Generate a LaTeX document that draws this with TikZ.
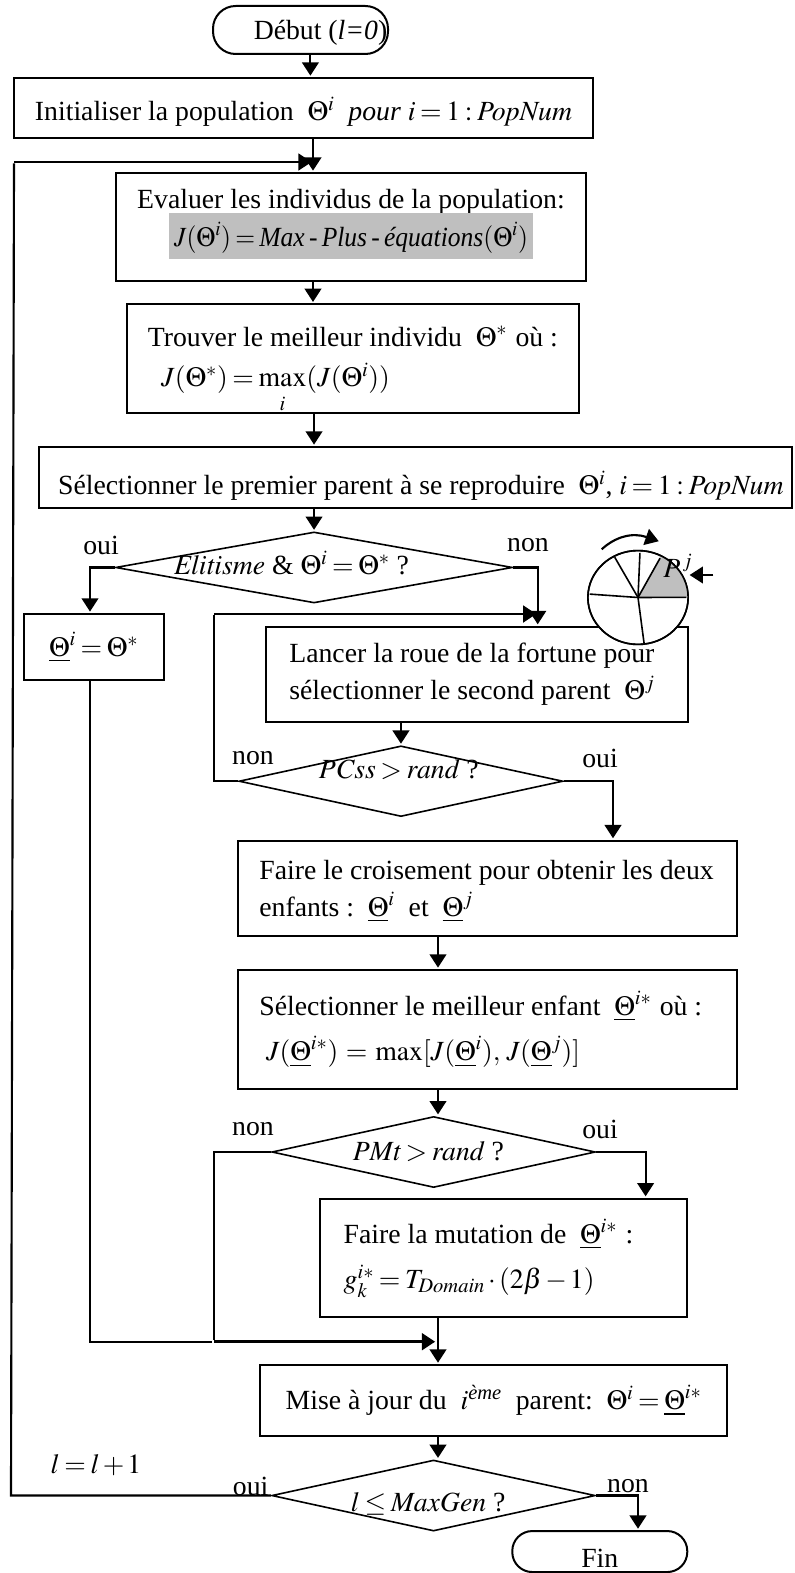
\documentclass[tikz,border=0pt]{standalone}
\usepackage{amsmath,graphicx}
\usepackage{mathptmx}
\usepackage[no-math]{fontspec}
\setmainfont{Liberation Serif}
\usetikzlibrary{arrows.meta, positioning, shapes.geometric}

\thickmuskip=3mu
\medmuskip=2mu
\setlength{\fboxsep}{0pt}
\newcommand{\uth}{\underline{\Theta}}
\newcommand{\lowered}[2]{\raisebox{-#1}[\height][\depth]{#2}}
\newcommand{\offtext}[3]{\raisebox{#2}[0pt][0pt]{\hbox to 0pt{\hss\kern#1\relax #3\hss\kern-#1\relax}}}

\begin{document}
\begin{tikzpicture}[x=0.75pt,y=-0.75pt,shorten >=1pt,on grid,>={Triangle[length=10pt,width=12.5pt]},
        every node/.style={font=\fontsize{20.8}{28}\selectfont},
        flow/.style={line width=1.6pt},
        heavy/.style={line width=2.2pt},
        box/.style 2 args={draw,rectangle,line width=1.5pt,inner sep=0pt,minimum width=#1,minimum height=#2},
        txtbox/.style n args={3}{box={#1}{#2},inner xsep=16pt,text width=#3,align=flush left},
        term/.style n args={3}{box={#1}{#2},rounded corners=#3},
        cond/.style n args={3}{draw,diamond,line width=1.2pt,inner sep=0pt,aspect=#3,minimum width=#1,minimum height=#2}]

      \useasboundingbox (0,0) rectangle (794,1573);

      \coordinate (j_a) at (310.4,0);
      \coordinate (j_b) at (438,0);
      \coordinate (j_c) at (90,0);
      \coordinate (j_d) at (613,0);
      \coordinate (j_e) at (645.6,0);
      \coordinate (j_f) at (638,0);
      \coordinate (j_0) at (313,162);
      \coordinate (j_1) at (14,162);
      \coordinate (j_2) at (11,1495.5);
      \coordinate (j_3) at (436.5,1341.7);
      \coordinate (j_4) at (213.7,1341.7);
      \coordinate (j_5) at (537.7,614);
      \coordinate (j_6) at (214,614);

      \node[term={131.25pt}{36pt}{17pt}]  (deb) at (300.5,30)     {\hspace*{30pt}\lowered{2.2pt}{Début (\textit{l=0})}};
      \node[box={434.25pt}{45pt}]   (init) [below right=58.5pt and 2.25pt of deb]
            {\lowered{3pt}{Initialiser la population\ \ $\Theta^i$\ \ \textit{pour} $i=1:\mathit{PopNum}$}};
      \node[box={352.5pt}{81pt},align=flush center,text width=350pt] (eval) [below right=89.25pt and 35.6pt of init]
            {\raisebox{1.5pt}[\height][\depth]{Evaluer les individus de la population:}\\
             \raisebox{3.4pt}[\height][\depth]{\colorbox{black!25}{\makebox[273pt]{\rule[-9.5pt]{0pt}{34.5pt}\scalebox{.92}[1]{$J(\Theta^i)=\textit{Max\,-\,Plus\,-\,équations}(\Theta^i)$}}}}};
      \node[txtbox={339pt}{81.75pt}{307pt}] (best) [below right=98.85pt and 1.2pt of eval]
            {\lowered{4.5pt}{Trouver le meilleur individu\ \ $\Theta^*$\ \hspace{1pt}où :}\\
             \hspace*{10pt}\lowered{6.75pt}{$J(\Theta^*)=\max\limits_{\smash{\lower 5pt\hbox{$\scriptstyle i$}}}(J(\Theta^i))$}};
      \node[box={564.75pt}{45.75pt}] (par1) [below right=89pt and 47.2pt of best]
            {\hspace*{8pt}\lowered{6pt}{Sélectionner le premier parent à se reproduire\ \ $\Theta^i$, $i=1:\mathit{PopNum}$}};
      \node[cond={297.75pt}{53.25pt}{5.6}] (elit) [below left=67.5pt and 76.1pt of par1]
            {\offtext{-16.8pt}{-5.5pt}{$\mathit{Elitisme}$ \& $\Theta^i=\Theta^*$ ?}};
      \node[box={104.6pt}{49.5pt}] (copy) [below left=59.6pt and 165.2pt of elit] {$\uth^i=\Theta^*$};
      \node[txtbox={316.2pt}{71.25pt}{284.2pt}] (roue) [below right=80pt and 122.1pt of elit]
            {\mbox{\hspace*{1.5pt}Lancer la roue de la fortune pour}\\
             \mbox{\hspace*{1.5pt}sélectionner le second parent\ \ $\Theta^j$}};
      \node[cond={243pt}{53pt}{4.58}] (pcss) [below left=80.3pt and 56.9pt of roue]
            {\offtext{-1.7pt}{2pt}{$\mathit{PCss}>\mathit{rand}$ ?}};
      \node[txtbox={374.25pt}{71.5pt}{342.25pt}] (cross) [below right=80.3pt and 64.9pt of pcss]
            {\lowered{2.2pt}{Faire le croisement pour obtenir les deux}\\
             \lowered{2.2pt}{enfants :\ \ $\uth^i$\ \ et\ \ $\uth^j$}};
      \node[txtbox={374.25pt}{89.25pt}{342.25pt}] (bestc) [below=105.9pt of cross]
            {\mbox{Sélectionner le meilleur enfant\ \ $\uth^{i*}$\ \hspace{1pt}où :}\\[6pt]
             \hspace*{5pt}$J(\uth^{i*})\,=\,\max[J(\uth^i),\,J(\uth^j)]$};
      \node[cond={242.6pt}{53.25pt}{4.56}] (pmt) [below left=91.9pt and 40.4pt of bestc]
            {\offtext{-4pt}{-6.5pt}{$\mathit{PMt}>\mathit{rand}$ ?}};
      \node[txtbox={275.25pt}{89pt}{243.25pt}] (mut) [below right=79.5pt and 52.7pt of pmt]
            {\hspace*{1.5pt}Faire la mutation de\ \ $\uth^{i*}$\ \hspace{1pt}:\\[6pt]
             \hspace*{1.5pt}$g_k^{i*}=T_{\mathit{Domain}}\cdot(2\beta-1)$};
      \node[box={350.7pt}{53.25pt}] (maj) [below left=106.9pt and 7.7pt of mut]
            {Mise à jour du\ \ $i^{\textit{ème}}$\ \ parent:\ \ $\Theta^i=\uth^{i*}$};
      \node[cond={242.6pt}{53.25pt}{4.56}] (gen) [below left=71.25pt and 45.1pt of maj]
            {\offtext{-4pt}{-12pt}{$l\leq\mathit{MaxGen}$ ?}};
      \node[term={131.25pt}{30.75pt}{15pt}]  (fin) [below right=42pt and 124.7pt of gen] {\lowered{5pt}{Fin}};

      \node (l_1) at (101,545)    {oui};
      \node (l_2) at (528,545)    {non};
      \node (l_3) at (253,758)    {non};
      \node (l_4) at (600,758)    {oui};
      \node (l_5) at (253,1129)   {non};
      \node (l_6) at (600,1129)   {oui};
      \node (l_7) at (250.6,1486) {oui};
      \node (l_8) at (628,1486)   {non};
      \node (l_9) at (96,1465)    {$l=l+1$};

      \draw[flow,->] (deb.south -| j_a) -- (init.north -| j_a);
      \draw[flow,->] (init.south -| j_0) -- (eval.north -| j_0);
      \draw[flow,->] (eval.south -| j_0) -- (best.north -| j_0);
      \draw[flow,->] (best.south -| elit) -- (par1.north -| elit);
      \draw[flow,->] (par1.south -| elit) -- (elit.north);
      \draw[flow,->] (elit.west) -| (copy.north -| j_c);
      \draw[flow,->] (elit.east) -| (roue.north -| j_5);
      \draw[flow,->] (roue.south -| pcss) -- (pcss.north);
      \draw[flow,->] (pcss.east) -| (cross.north -| j_d);
      \draw[flow,->] (cross.south -| j_b) -- (bestc.north -| j_b);
      \draw[flow,->] (bestc.south -| j_b) -- (pmt.north -| j_b);
      \draw[flow,->] (pmt.east) -| (mut.north -| j_e);
      \draw[flow,->] (mut.south -| j_b) -- (maj.north -| j_b);
      \draw[flow,->] (maj.south -| j_b) -- (gen.north -| j_b);
      \draw[flow,->] (gen.east) -| (fin.north -| j_f);

      \draw[flow] (copy.south -| j_c) -- (j_c |- j_4) -- (j_4);
      \draw[heavy,->] (j_4) -- (j_3);
      \draw[flow] (pmt.west) -| (j_4);
      \draw[flow] (pcss.west) -| (j_6);
      \draw[heavy,->] (j_6) -- (j_5);
      \draw[flow] (gen.west) -- (j_2) -- (j_1);
      \draw[heavy,->] (j_1) -- (j_0);

      % roue de la fortune
      \coordinate (w_0) at (638,597.5);
      \draw[line width=1.2pt,fill=white] (w_0) ellipse [x radius=37.6pt,y radius=35.2pt];
      \fill[black!25] (w_0) -- ++(37.6pt,0pt) arc [start angle=0,end angle=62.6,x radius=37.6pt,y radius=35.2pt] -- cycle;
      \foreach \x/\y in {687.7/597.3,660.7/557,640/551.5,614/556,588.3/594,644.3/645}
        \draw[line width=1.2pt] (w_0) -- (\x,\y);
      \draw[line width=1.2pt] (w_0) ellipse [x radius=37.6pt,y radius=35.2pt];
      \node (p_j) at (678,566) {$P^{\,j}$};
      \coordinate (a_1) at (713.3,575);
      \coordinate (a_2) at (688.3,575);
      \coordinate (a_3) at (601.7,549.3);
      \coordinate (a_4) at (660,541.7);
      \draw[flow,->] (a_1) -- (a_2);
      \draw[flow,->] (a_3) .. controls (615,537) and (632,532) .. (a_4);
\end{tikzpicture}
\end{document}
